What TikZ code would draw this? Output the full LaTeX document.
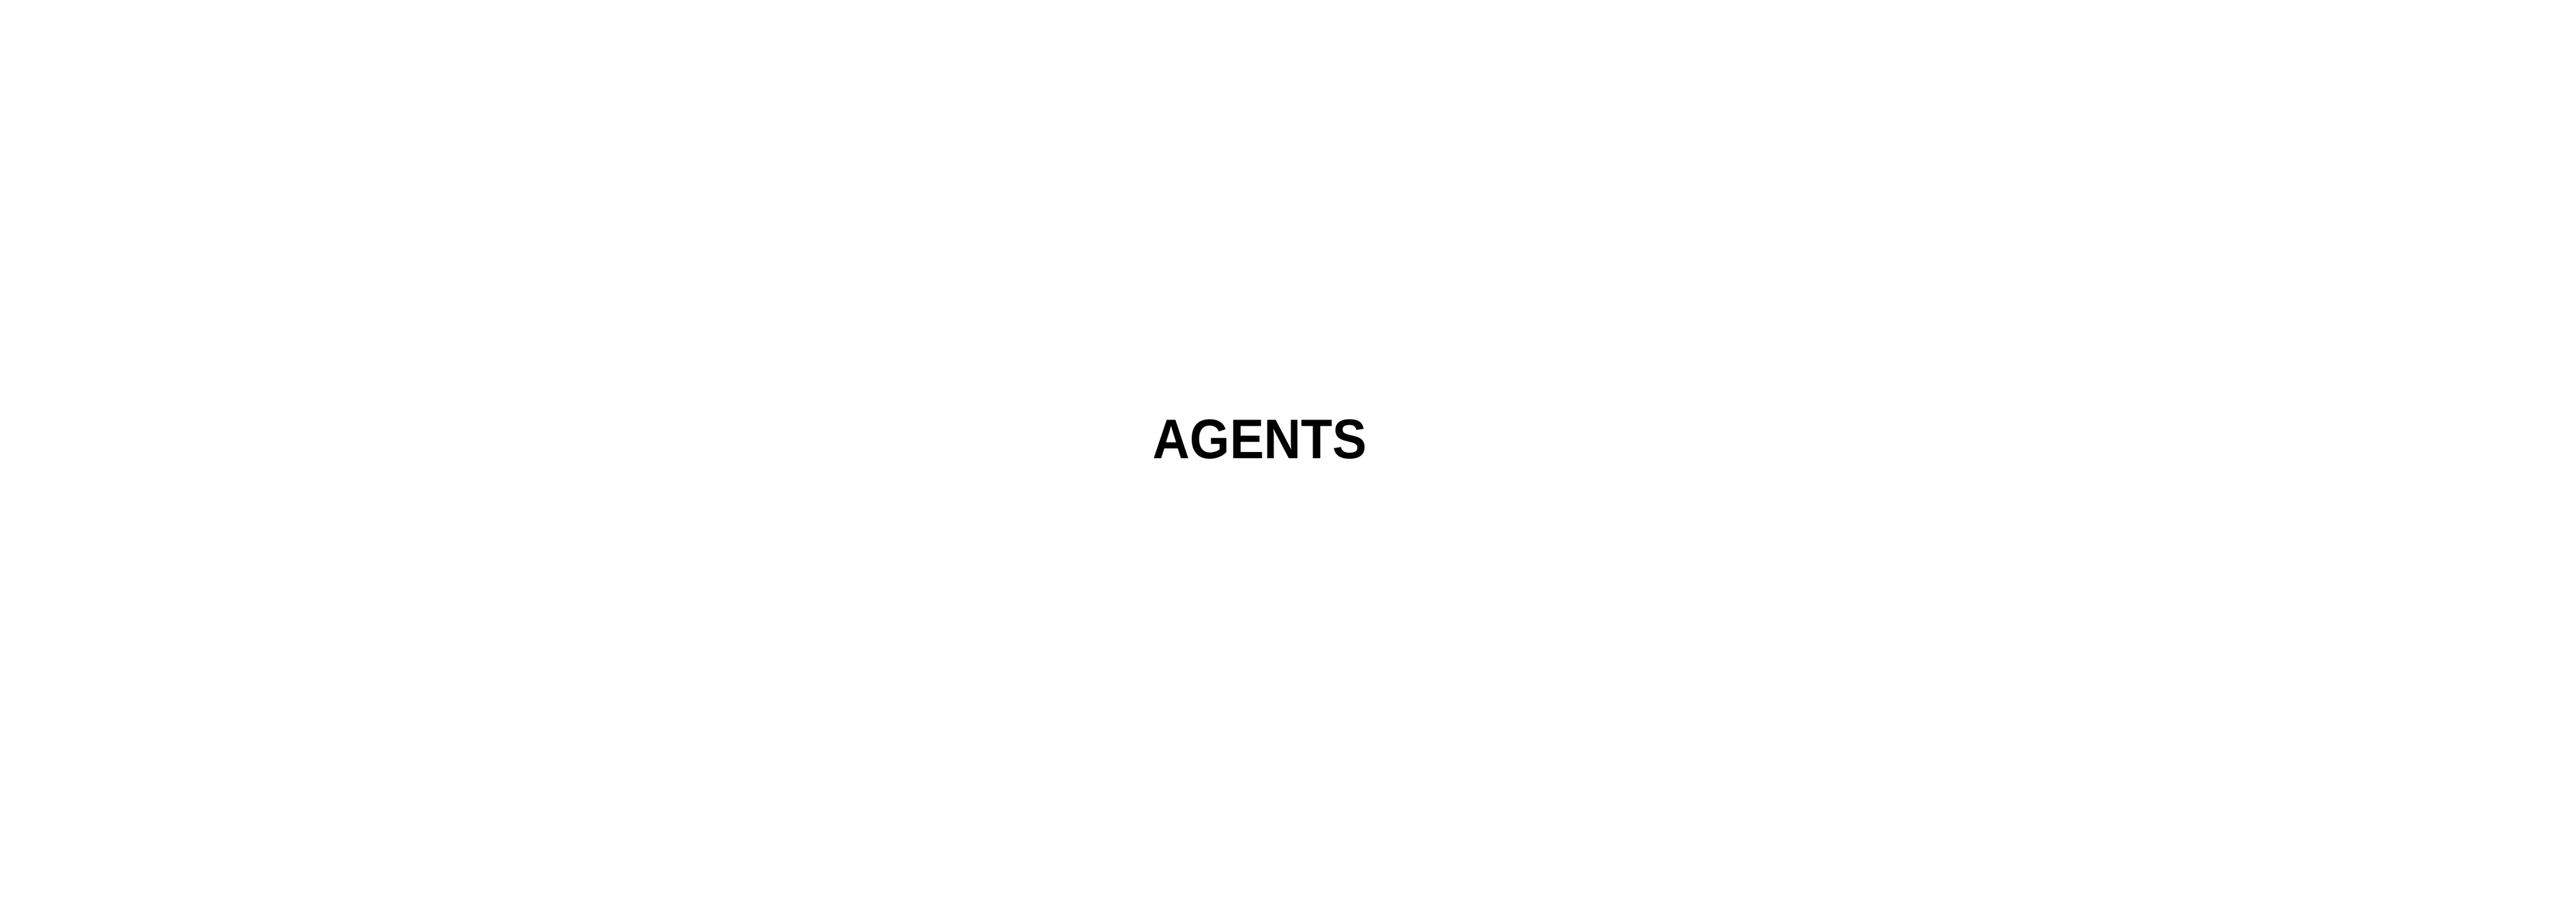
\documentclass[tikz,border=0pt]{standalone}
\usepackage{fontspec}
\setmainfont{Liberation Sans}
\begin{document}
\begin{tikzpicture}
\useasboundingbox[fill=white] (0,0) rectangle (54.8,19.56);
\node[font=\fontsize{33.8}{40}\selectfont\bfseries, inner sep=0pt, anchor=base, xscale=0.92] (t) at (26.80,9.80) {AGENTS};
\end{tikzpicture}
\end{document}
